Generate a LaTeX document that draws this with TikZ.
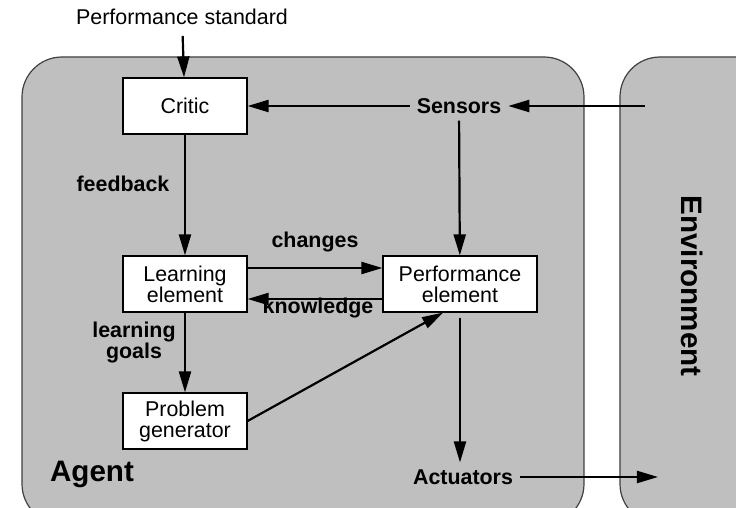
\documentclass[tikz,border=0pt]{standalone}
\usepackage{fontspec}
\setmainfont{Liberation Sans}
\usetikzlibrary{arrows.meta}

\begin{document}
\begin{tikzpicture}[x=1pt,y=-1pt,
  unit box/.style={draw,fill=white,line width=.6pt,minimum width=62pt,minimum height=28pt,inner sep=1pt,align=center,font=\fontsize{10.7}{10.5}\selectfont},
  flow label/.style={font=\fontsize{10.7}{10.5}\selectfont\bfseries,align=center},
  big label/.style={font=\fontsize{14.8}{16}\selectfont\bfseries},
  region/.style={draw=black!75,fill=black!25,line width=.6pt,rounded corners=20pt},
  >={Triangle[length=10.5pt,width=6pt]}]
  \useasboundingbox (0,0) rectangle (368,254);
  \clip (0,0) rectangle (368,254);
  \path[region] (11,28.5) rectangle (292,262);
  \path[region] (310,28.5) rectangle (400,262);

  \path (92.5,53)    node[unit box] (critic) {Critic}
        (92.5,142)   node[unit box] (learn) {Learning\\element}
        (92.5,210.5) node[unit box] (probgen) {Problem\\generator}
        (230,142)    node[unit box,minimum width=77pt] (perf) {Performance\\element};
  \path (91,8.5)     node[font=\fontsize{10.7}{10.5}\selectfont] (std) {Performance standard}
        (229.5,53)   node[flow label] (sens) {Sensors}
        (231.5,238.5) node[flow label] (act) {Actuators};
  \coordinate (env in) at (322.5,53);
  \coordinate (env out) at (329,238.5);

  \path[->, line width=1.1pt]
        (std) edge[shorten <=2pt] (critic)
        (env in) edge (sens)
        (sens) edge (critic)
        (sens) edge (perf)
        (critic) edge (learn)
        ([yshift=8pt]learn.east) edge ([yshift=8pt]perf.west)
        ([yshift=-7.5pt]perf.west) edge ([yshift=-7.5pt]learn.west -| learn.east)
        (learn) edge (probgen)
        (probgen.east) edge ([xshift=-8.5pt]perf.south)
        (perf.south) edge[shorten <=2.5pt] (perf.south |- act.north)
        (act) edge (env out);

  \path (61.5,92)   node[flow label] (fb) {feedback}
        (157.5,121) node[flow label] (chg) {changes}
        (159,154)   node[flow label] (know) {knowledge}
        (67,171.5)  node[flow label] (goals) {learning\\goals}
        (46,237)    node[big label] (agent) {Agent}
        (346,143)   node[big label,rotate=-90] (env) {Environment};
\end{tikzpicture}
\end{document}
